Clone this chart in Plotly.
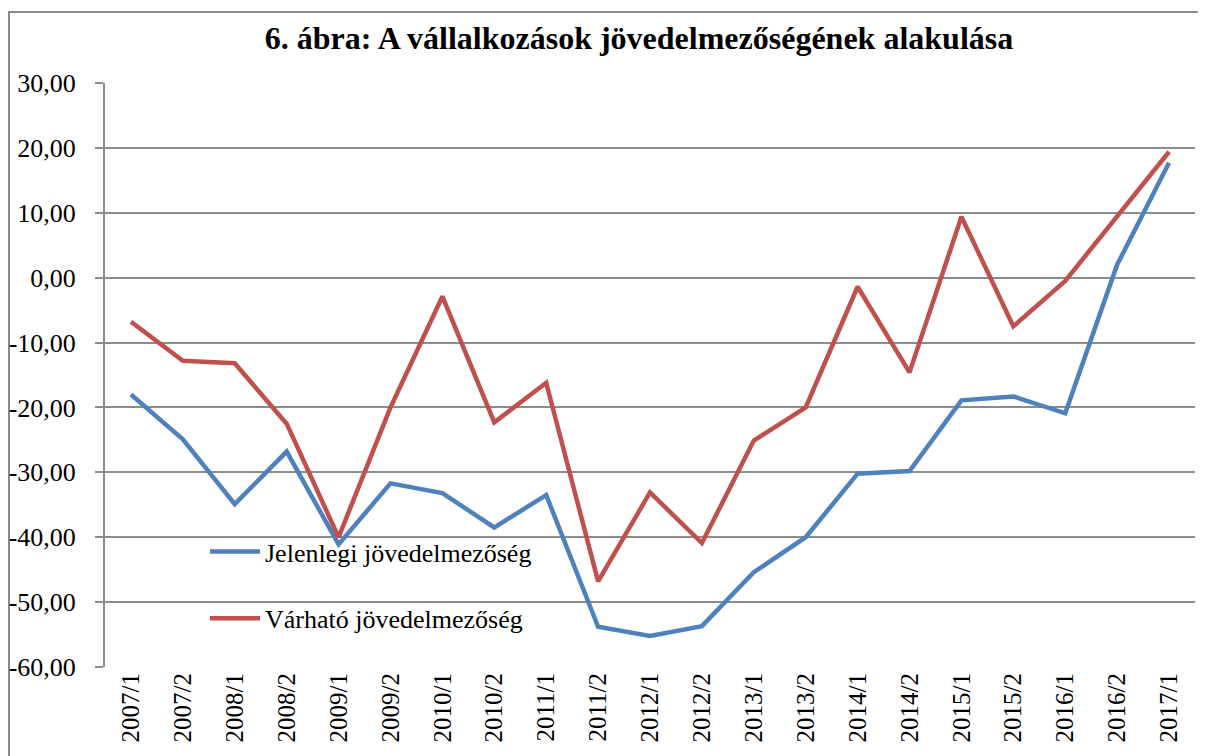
import plotly.graph_objects as go

periods = ["2007/1", "2007/2", "2008/1", "2008/2", "2009/1", "2009/2", "2010/1",
           "2010/2", "2011/1", "2011/2", "2012/1", "2012/2", "2013/1", "2013/2",
           "2014/1", "2014/2", "2015/1", "2015/2", "2016/1", "2016/2", "2017/1"]

jelenlegi = [-18.0, -24.9, -34.9, -26.8, -41.1, -31.7, -33.2, -38.5, -33.5, -53.8,
             -55.2, -53.7, -45.4, -40.0, -30.2, -29.8, -18.9, -18.3, -20.9, 2.0, 17.7]

varhato = [-6.8, -12.8, -13.2, -22.5, -40.0, -20.0, -2.9, -22.3, -16.2, -46.8,
           -33.1, -40.9, -25.1, -20.0, -1.4, -14.6, 9.4, -7.5, -0.5, 9.5, 19.4]

y_tickvals = [-60, -50, -40, -30, -20, -10, 0, 10, 20, 30]
y_ticktext = ["-60,00", "-50,00", "-40,00", "-30,00", "-20,00", "-10,00",
              "0,00", "10,00", "20,00", "30,00"]

FONT = "Liberation Serif, Times New Roman, serif"
GRID = "#8c8c8c"

# page body margin offset (screen px -> figure px)
OFF = 8
W, H = 1206 - OFF, 756 - OFF
L, T = 105 - OFF, 83 - OFF
R = W - (1195 - OFF)
B = H - (667 - OFF)
pw, ph = W - L - R, H - T - B


def px_x(p):
    return (p - OFF - L) / pw


def px_y(p):
    return (H - B - (p - OFF)) / ph


fig = go.Figure()
fig.add_trace(go.Scatter(x=periods, y=jelenlegi, mode="lines",
                         name="Jelenlegi jövedelmezőség", legendgroup="a",
                         line=dict(color="#4F81BD", width=4.5)))
fig.add_trace(go.Scatter(x=periods, y=varhato, mode="lines",
                         name="Várható jövedelmezőség", legendgroup="b",
                         line=dict(color="#C0504D", width=4.5)))

fig.update_layout(
    width=W, height=H,
    margin=dict(l=L, r=R, t=T, b=B),
    paper_bgcolor="white", plot_bgcolor="white",
    font=dict(family=FONT, color="black", size=26),
    title=dict(text="<b>6. ábra: A vállalkozások jövedelmezőségének alakulása</b>",
               x=(639 - OFF) / W, xanchor="center", y=1 - (38 - OFF) / H, yanchor="middle",
               font=dict(family=FONT, size=32, color="black")),
    showlegend=True,
    legend=dict(x=px_x(205), y=px_y(528), xanchor="left", yanchor="top",
                bgcolor="rgba(0,0,0,0)", borderwidth=0, itemwidth=50,
                font=dict(family=FONT, size=26, color="black"),
                traceorder="grouped", tracegroupgap=30),
    xaxis=dict(type="category", range=[-0.5, len(periods) - 0.5],
               showgrid=False, zeroline=False, automargin=False,
               showline=False, ticks="", tickangle=-90,
               tickfont=dict(family=FONT, size=25, color="black")),
    yaxis=dict(range=[-60, 30], tickmode="array", tickvals=y_tickvals, ticktext=y_ticktext,
               showgrid=True, gridcolor=GRID, gridwidth=2, zeroline=False,
               showline=True, linecolor=GRID, linewidth=2, automargin=False,
               ticks="outside", ticklen=8, tickcolor=GRID, tickwidth=2,
               ticklabelstandoff=14,
               tickfont=dict(family=FONT, size=26, color="black")),
)

fig.add_shape(type="rect", xref="paper", yref="paper",
              x0=px_x(9), x1=px_x(1204), y0=px_y(12), y1=px_y(800),
              line=dict(color="#8a8a8a", width=2), layer="below")

fig.write_html("out.html")
